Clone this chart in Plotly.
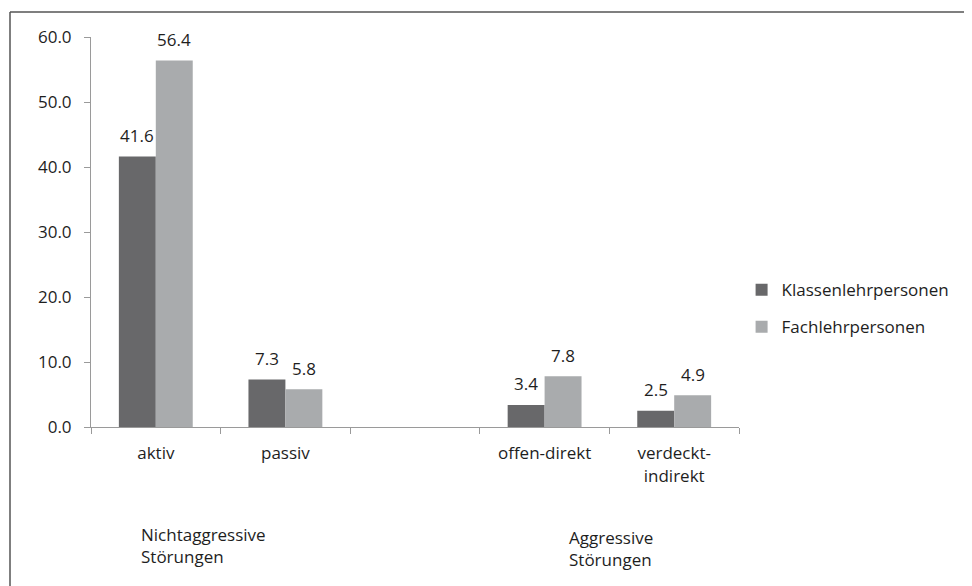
import plotly.graph_objects as go

categories = ["aktiv", "passiv", " ", "offen-direkt", "verdeckt-<br>indirekt"]
klassen = [41.6, 7.3, None, 3.4, 2.5]
fach = [56.4, 5.8, None, 7.8, 4.9]
series_names = ["Klassenlehrpersonen", "Fachlehrpersonen"]
y_ticks = [0, 10, 20, 30, 40, 50, 60]
y_tick_labels = ["0.0", "10.0", "20.0", "30.0", "40.0", "50.0", "60.0"]
group_labels = ["Nichtaggressive<br>Störungen", "Aggressive<br>Störungen"]

FONT = "Open Sans"
FS = 17
TXT = "#1e1e1e"
DARK = "#68686a"
LIGHT = "#a9abad"

fig = go.Figure()
fig.add_trace(go.Bar(x=categories, y=klassen, name=series_names[0], legendgroup="a",
                     marker=dict(color=DARK, line=dict(width=0))))
fig.add_trace(go.Bar(x=categories, y=fach, name=series_names[1], legendgroup="b",
                     marker=dict(color=LIGHT, line=dict(width=0))))

annotations = []
for vals, xs in ((klassen, -18.5), (fach, 18.5)):
    for c, v in zip(categories, vals):
        if v is None:
            continue
        annotations.append(dict(x=c, y=v, xref="x", yref="y", text=f"{v:.1f}",
                                showarrow=False, xshift=xs, yshift=21,
                                yanchor="middle", xanchor="center",
                                font=dict(family=FONT, size=FS, color=TXT)))

annotations.append(dict(x=0.074, y=-0.24, xref="paper", yref="paper",
                        text=group_labels[0], showarrow=False, align="left",
                        xanchor="left", yanchor="top",
                        font=dict(family=FONT, size=FS, color=TXT)))
annotations.append(dict(x=0.734, y=-0.248, xref="paper", yref="paper",
                        text=group_labels[1], showarrow=False, align="left",
                        xanchor="left", yanchor="top",
                        font=dict(family=FONT, size=FS, color=TXT)))

fig.update_layout(
    width=972, height=586,
    margin=dict(l=83, r=241, t=29, b=167),
    paper_bgcolor="white", plot_bgcolor="white",
    barmode="group", bargap=0.43, bargroupgap=0,
    font=dict(family=FONT, size=FS, color=TXT),
    showlegend=True,
    legend=dict(x=1.004, y=0.397, xanchor="left", yanchor="top",
                font=dict(family=FONT, size=FS, color=TXT),
                itemwidth=30, tracegroupgap=12, bgcolor="rgba(0,0,0,0)"),
    annotations=annotations,
    shapes=[
        dict(type="line", xref="paper", yref="paper",
             x0=-81/648, x1=900/648, y0=(427-12)/390, y1=(427-12)/390,
             line=dict(color="#555555", width=1.5)),
        dict(type="line", xref="paper", yref="paper",
             x0=-81/648, x1=-81/648, y0=(427-12)/390, y1=-200/390,
             line=dict(color="#555555", width=1.5)),
    ],
)
fig.update_xaxes(type="category", categoryorder="array", categoryarray=categories,
                 showline=True, linecolor="#9a9a9a", linewidth=1,
                 ticks="outside", tickson="boundaries", ticklen=6, tickcolor="#9a9a9a",
                 showgrid=False, zeroline=False, ticklabelstandoff=11,
                 tickfont=dict(family=FONT, size=FS, color=TXT))
fig.update_yaxes(range=[0, 60], tickvals=y_ticks, ticktext=y_tick_labels,
                 showline=True, linecolor="#9a9a9a", linewidth=1,
                 ticks="outside", ticklen=6, tickcolor="#9a9a9a",
                 showgrid=False, zeroline=False, ticklabelstandoff=9,
                 tickfont=dict(family=FONT, size=FS, color=TXT))

fig.write_html("out.html")
